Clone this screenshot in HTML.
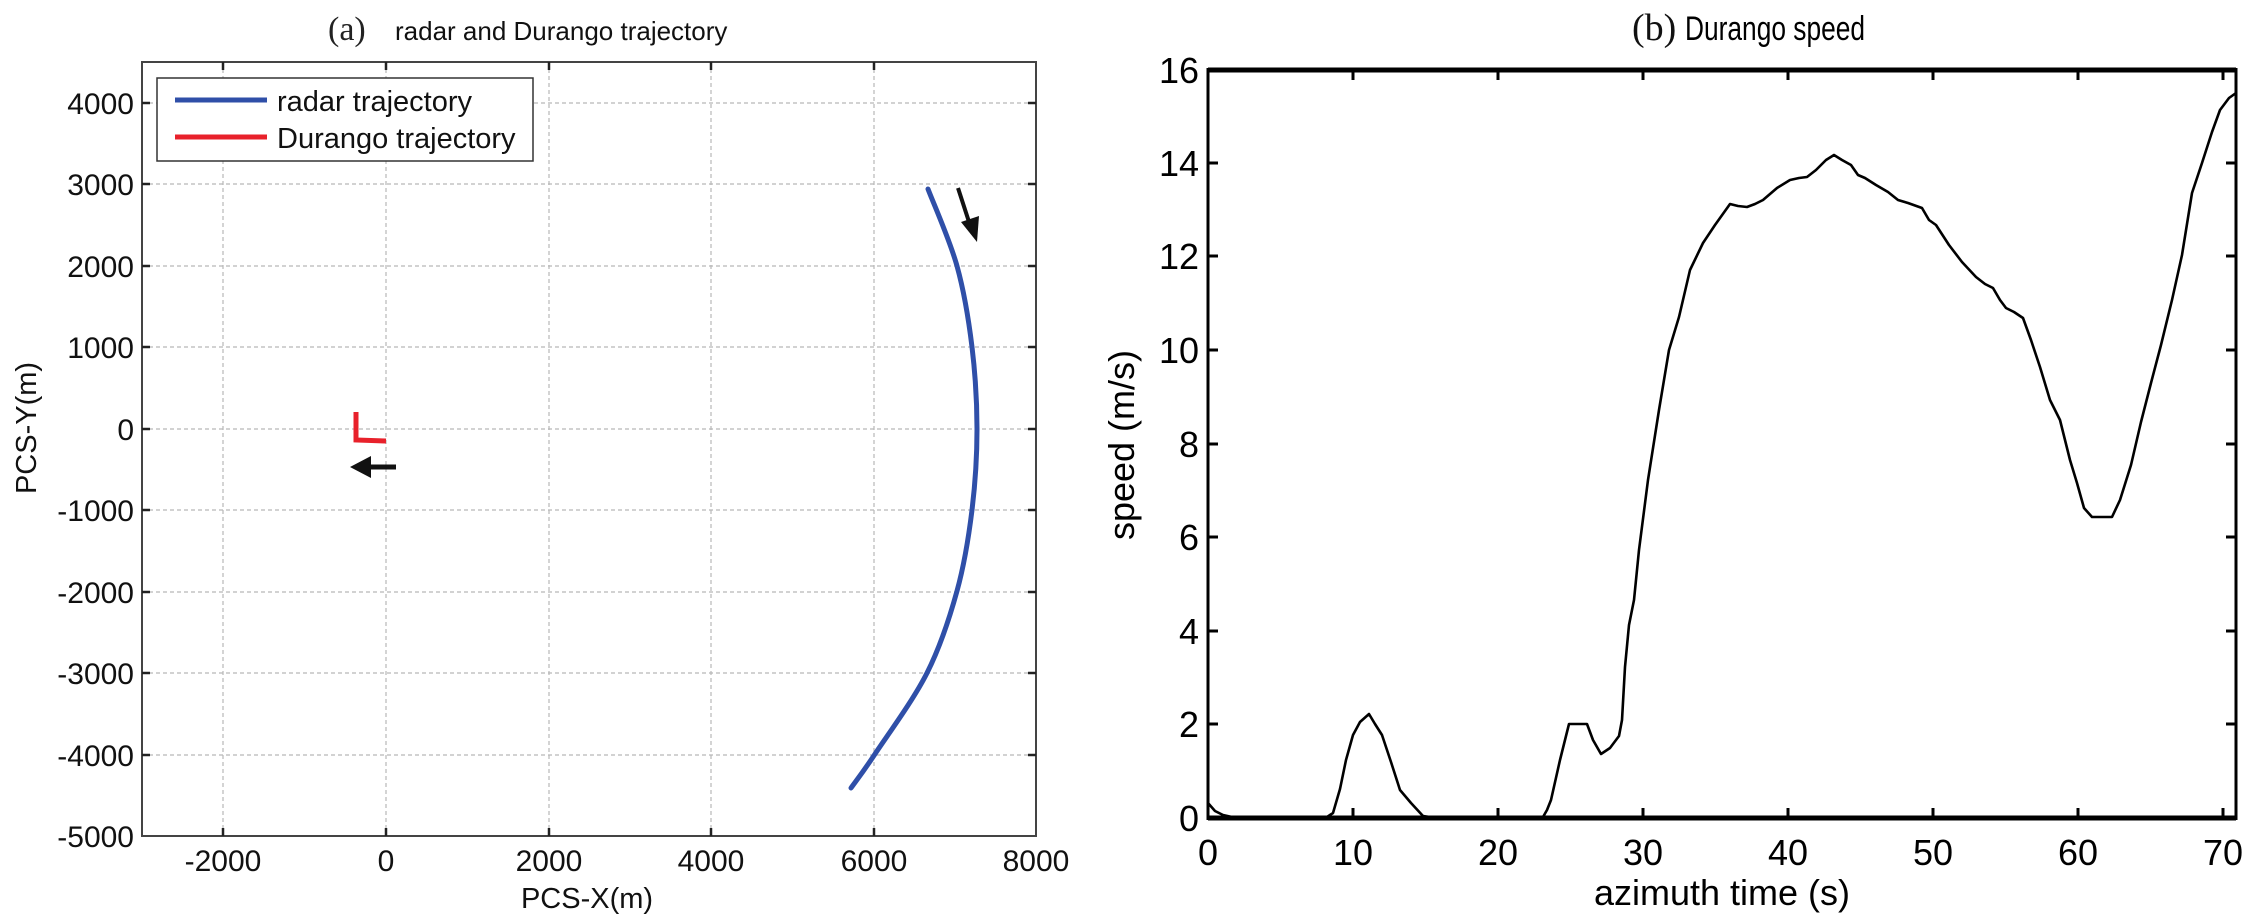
<!DOCTYPE html>
<html><head><meta charset="utf-8"><style>
html,body{margin:0;padding:0;background:#fff;}
svg{display:block;font-family:"Liberation Sans",sans-serif;}
</style></head><body>
<svg width="2258" height="920" viewBox="0 0 2258 920" xmlns="http://www.w3.org/2000/svg">
<rect width="2258" height="920" fill="#fff"/>
<!-- LEFT PLOT -->
<g stroke="#b8b8b8" stroke-width="1.2" stroke-dasharray="4,3" fill="none">
<line x1="142" y1="103" x2="1036" y2="103"/>
<line x1="142" y1="184" x2="1036" y2="184"/>
<line x1="142" y1="266" x2="1036" y2="266"/>
<line x1="142" y1="347" x2="1036" y2="347"/>
<line x1="142" y1="429" x2="1036" y2="429"/>
<line x1="142" y1="510" x2="1036" y2="510"/>
<line x1="142" y1="592" x2="1036" y2="592"/>
<line x1="142" y1="673" x2="1036" y2="673"/>
<line x1="142" y1="755" x2="1036" y2="755"/>
<line x1="223" y1="62" x2="223" y2="836"/>
<line x1="386" y1="62" x2="386" y2="836"/>
<line x1="549" y1="62" x2="549" y2="836"/>
<line x1="711" y1="62" x2="711" y2="836"/>
<line x1="874" y1="62" x2="874" y2="836"/>
</g>
<rect x="142" y="62" width="894" height="774" fill="none" stroke="#444" stroke-width="2"/>
<g stroke="#222" stroke-width="2.5">
<line x1="142" y1="103" x2="150" y2="103"/><line x1="1036" y1="103" x2="1028" y2="103"/>
<line x1="142" y1="184" x2="150" y2="184"/><line x1="1036" y1="184" x2="1028" y2="184"/>
<line x1="142" y1="266" x2="150" y2="266"/><line x1="1036" y1="266" x2="1028" y2="266"/>
<line x1="142" y1="347" x2="150" y2="347"/><line x1="1036" y1="347" x2="1028" y2="347"/>
<line x1="142" y1="429" x2="150" y2="429"/><line x1="1036" y1="429" x2="1028" y2="429"/>
<line x1="142" y1="510" x2="150" y2="510"/><line x1="1036" y1="510" x2="1028" y2="510"/>
<line x1="142" y1="592" x2="150" y2="592"/><line x1="1036" y1="592" x2="1028" y2="592"/>
<line x1="142" y1="673" x2="150" y2="673"/><line x1="1036" y1="673" x2="1028" y2="673"/>
<line x1="142" y1="755" x2="150" y2="755"/><line x1="1036" y1="755" x2="1028" y2="755"/>
<line x1="223" y1="836" x2="223" y2="828"/><line x1="223" y1="62" x2="223" y2="70"/>
<line x1="386" y1="836" x2="386" y2="828"/><line x1="386" y1="62" x2="386" y2="70"/>
<line x1="549" y1="836" x2="549" y2="828"/><line x1="549" y1="62" x2="549" y2="70"/>
<line x1="711" y1="836" x2="711" y2="828"/><line x1="711" y1="62" x2="711" y2="70"/>
<line x1="874" y1="836" x2="874" y2="828"/><line x1="874" y1="62" x2="874" y2="70"/>
</g>
<g font-size="30" fill="#111" text-anchor="end">
<text x="134" y="114">4000</text><text x="134" y="195">3000</text><text x="134" y="277">2000</text>
<text x="134" y="358">1000</text><text x="134" y="440">0</text><text x="134" y="521">-1000</text>
<text x="134" y="603">-2000</text><text x="134" y="684">-3000</text><text x="134" y="766">-4000</text>
<text x="134" y="847">-5000</text>
</g>
<g font-size="30" fill="#111" text-anchor="middle">
<text x="223" y="871">-2000</text><text x="386" y="871">0</text><text x="549" y="871">2000</text>
<text x="711" y="871">4000</text><text x="874" y="871">6000</text><text x="1036" y="871">8000</text>
<text x="587" y="908" font-size="29">PCS-X(m)</text>
<text transform="translate(36,428) rotate(-90)" font-size="29">PCS-Y(m)</text>
</g>
<text x="328" y="40" font-family="Liberation Serif,serif" font-size="34" fill="#222">(a)</text>
<text x="395" y="40" font-size="26" fill="#111">radar and Durango trajectory</text>
<!-- radar trajectory -->
<path d="M928,189 C932.8,201.8 949.7,239.7 957,266 C964.3,292.3 968.7,319.8 972,347 C975.3,374.2 977,401.8 977,429 C977,456.2 975.3,483 972,510 C968.7,537 964.5,563.8 957,591 C949.5,618.2 940.7,645.8 927,673 C913.3,700.2 887.7,734.8 875,754 C862.3,773.2 855,782.3 851,788" fill="none" stroke="#2f4fa8" stroke-width="5" stroke-linecap="round" stroke-linejoin="round"/>
<!-- arrow radar -->
<line x1="958" y1="188" x2="970" y2="225" stroke="#111" stroke-width="4"/>
<polygon points="977,242 961,222 979,216" fill="#111"/>
<!-- Durango -->
<polyline points="356,412 356,440 386,441" fill="none" stroke="#e8212b" stroke-width="5"/>
<line x1="396" y1="467" x2="366" y2="467" stroke="#111" stroke-width="5"/>
<polygon points="350,467 371,456 371,478" fill="#111"/>
<!-- legend -->
<rect x="157" y="78" width="376" height="83" fill="#fff" stroke="#333" stroke-width="1.5"/>
<line x1="175" y1="100" x2="267" y2="100" stroke="#2f4fa8" stroke-width="5"/>
<line x1="175" y1="137" x2="267" y2="137" stroke="#e8212b" stroke-width="5"/>
<text x="277" y="111" font-size="29" fill="#111">radar trajectory</text>
<text x="277" y="148" font-size="29" fill="#111">Durango trajectory</text>

<!-- RIGHT PLOT -->
<line x1="1208" y1="70" x2="2236" y2="70" stroke="#000" stroke-width="5"/>
<line x1="1208" y1="818" x2="2236" y2="818" stroke="#000" stroke-width="5"/>
<line x1="1208" y1="68" x2="1208" y2="820" stroke="#000" stroke-width="3"/>
<line x1="2236" y1="68" x2="2236" y2="820" stroke="#000" stroke-width="3"/>
<g stroke="#000" stroke-width="3">
<line x1="1353" y1="818" x2="1353" y2="808"/><line x1="1353" y1="70" x2="1353" y2="80"/>
<line x1="1498" y1="818" x2="1498" y2="808"/><line x1="1498" y1="70" x2="1498" y2="80"/>
<line x1="1643" y1="818" x2="1643" y2="808"/><line x1="1643" y1="70" x2="1643" y2="80"/>
<line x1="1788" y1="818" x2="1788" y2="808"/><line x1="1788" y1="70" x2="1788" y2="80"/>
<line x1="1933" y1="818" x2="1933" y2="808"/><line x1="1933" y1="70" x2="1933" y2="80"/>
<line x1="2078" y1="818" x2="2078" y2="808"/><line x1="2078" y1="70" x2="2078" y2="80"/>
<line x1="2223" y1="818" x2="2223" y2="808"/><line x1="2223" y1="70" x2="2223" y2="80"/>
<line x1="1208" y1="724" x2="1218" y2="724"/><line x1="2236" y1="724" x2="2226" y2="724"/>
<line x1="1208" y1="631" x2="1218" y2="631"/><line x1="2236" y1="631" x2="2226" y2="631"/>
<line x1="1208" y1="537" x2="1218" y2="537"/><line x1="2236" y1="537" x2="2226" y2="537"/>
<line x1="1208" y1="444" x2="1218" y2="444"/><line x1="2236" y1="444" x2="2226" y2="444"/>
<line x1="1208" y1="350" x2="1218" y2="350"/><line x1="2236" y1="350" x2="2226" y2="350"/>
<line x1="1208" y1="256" x2="1218" y2="256"/><line x1="2236" y1="256" x2="2226" y2="256"/>
<line x1="1208" y1="163" x2="1218" y2="163"/><line x1="2236" y1="163" x2="2226" y2="163"/>
</g>
<g font-size="36" fill="#000" text-anchor="end">
<text x="1199" y="831">0</text><text x="1199" y="737">2</text><text x="1199" y="644">4</text>
<text x="1199" y="550">6</text><text x="1199" y="457">8</text><text x="1199" y="363">10</text>
<text x="1199" y="269">12</text><text x="1199" y="176">14</text><text x="1199" y="83">16</text>
</g>
<g font-size="36" fill="#000" text-anchor="middle">
<text x="1208" y="865">0</text><text x="1353" y="865">10</text><text x="1498" y="865">20</text>
<text x="1643" y="865">30</text><text x="1788" y="865">40</text><text x="1933" y="865">50</text>
<text x="2078" y="865">60</text><text x="2223" y="865">70</text>
<text x="1722" y="905">azimuth time (s)</text>
<text transform="translate(1134,445) rotate(-90)">speed (m/s)</text>
</g>
<text x="1632" y="40" font-family="Liberation Serif,serif" font-size="38" fill="#111">(b)</text>
<text x="1685" y="40" font-size="34" fill="#000" textLength="180" lengthAdjust="spacingAndGlyphs">Durango speed</text>
<polyline fill="none" stroke="#000" stroke-width="2.6" stroke-linejoin="round" points="1208,803 1215,811 1223,815 1232,817 1327,817 1333,813 1340,789 1346,760 1353,735 1360,722 1369,714 1375,724 1382,735 1391,762 1400,790 1411,803 1423,816 1430,817 1543,817 1547,810 1551,800 1560,760 1569,724 1587,724 1593,740 1601,754 1610,748 1616,740 1619,736 1622,720 1625,667 1629,625 1634,600 1639,550 1648,480 1659,410 1669,350 1679,317 1690,270 1703,243 1715,225 1730,204 1738,206 1747,207 1755,204 1763,200 1777,188 1790,180 1799,178 1807,177 1816,170 1826,160 1834,155 1842,160 1851,165 1858,175 1865,178 1876,185 1888,192 1898,200 1908,203 1922,208 1929,220 1936,225 1949,245 1962,262 1976,277 1985,284 1993,288 2000,300 2006,308 2014,312 2023,318 2031,340 2040,367 2050,400 2060,420 2070,460 2077,483 2084,508 2092,517 2112,517 2120,500 2131,465 2141,422 2151,383 2161,345 2172,300 2182,255 2192,193 2202,163 2212,132 2220,110 2229,98 2236,93"/>
</svg>
</body></html>
